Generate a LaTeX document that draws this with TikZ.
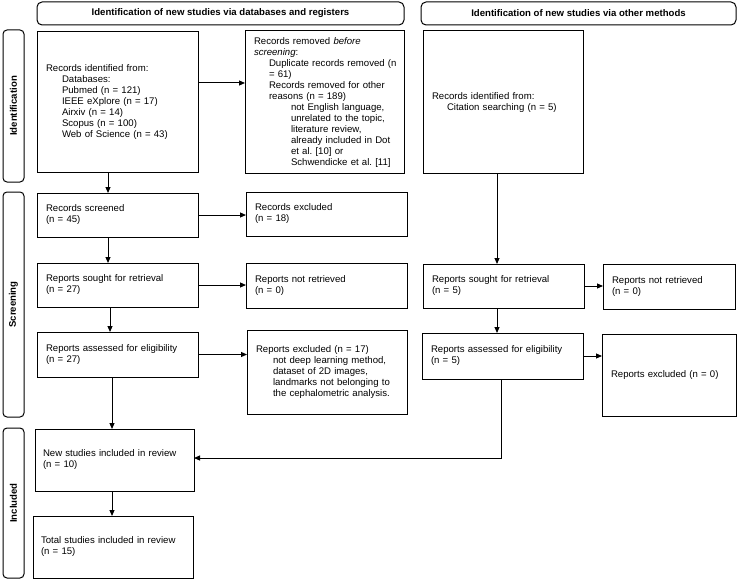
\documentclass[tikz,border=0pt]{standalone}
\usepackage{fontspec}
\setmainfont{Liberation Sans}
\usetikzlibrary{arrows.meta}
\frenchspacing
\newcommand{\IL}[2]{\hspace*{#1pt}\mbox{#2}}
\begin{document}
\begin{tikzpicture}[x=1pt,y=-1pt,
  bx/.style={draw=black, line width=1pt, anchor=north west, inner xsep=9pt, inner ysep=0pt,
    outer sep=0pt, align=left, font=\frenchspacing\fontsize{9.6}{11}\selectfont},
  hd/.style={draw=black, line width=1pt, rounded corners=5pt, anchor=north west, inner sep=0pt,
    outer sep=0pt, minimum height=23pt, font=\bfseries\fontsize{9.6}{11}\selectfont},
  side/.style={draw=black, line width=1pt, rounded corners=4pt, rotate=90, inner sep=0pt,
    outer sep=0pt, minimum height=21pt, font=\bfseries\fontsize{9.6}{11}\selectfont},
  arr/.style={line width=1pt, -{Triangle[length=6pt,width=5pt]}}]
\useasboundingbox (0,0) rectangle (738,580);

% headers
\node[hd, minimum width=367pt] (hleft) at (37,2) {Identification of new studies via databases and registers};
\node[hd, minimum width=315pt] (hright) at (421,2) {Identification of new studies via other methods};

% side labels
\node[side, minimum width=152pt] (sid) at (13.5,106) {Identification};
\node[side, minimum width=225pt] (sscr) at (13.5,304.5) {Screening};
\node[side, minimum width=150pt] (sinc) at (13.5,503) {Included};

% left column
\node[bx, text width=143pt, minimum height=141pt] (ident) at (37,32)
 {\IL{0}{Records identified from:}\\
  \IL{16}{Databases:}\\
  \IL{16}{Pubmed (n = 121)}\\
  \IL{16}{IEEE eXplore (n = 17)}\\
  \IL{16}{Airxiv (n = 14)}\\
  \IL{16}{Scopus (n = 100)}\\
  \IL{16}{Web of Science (n = 43)}};
\node[bx, text width=141pt, minimum height=143pt] (removed) at (245,31)
 {\IL{0}{Records removed \textit{before}}\\
  \IL{0}{\textit{screening}:}\\
  \IL{15}{Duplicate records removed (n}\\
  \IL{15}{= 61)}\\
  \IL{15}{Records removed for other}\\
  \IL{15}{reasons (n = 189)}\\
  \IL{37}{not English language,}\\
  \IL{37}{unrelated to the topic,}\\
  \IL{37}{literature review,}\\
  \IL{37}{already included in Dot}\\
  \IL{37}{et al. [10] or}\\
  \IL{37}{Schwendicke et al. [11]}};
\node[bx, text width=142pt, minimum height=143pt] (cit) at (423,31)
 {\IL{0}{Records identified from:}\\
  \IL{15}{Citation searching (n = 5)}\par\vspace*{8pt}};

\node[bx, text width=143pt, minimum height=44pt] (screen) at (37,193)
 {Records screened\\(n = 45)};
\node[bx, text width=143pt, minimum height=44pt] (excl18) at (246,192)
 {Records excluded\\(n = 18)};
\node[bx, text width=143pt, minimum height=44pt] (sought) at (37,263)
 {Reports sought for retrieval\\(n = 27)};
\node[bx, text width=143pt, minimum height=45pt] (notret) at (246,263)
 {Reports not retrieved\\(n = 0)};
\node[bx, text width=143pt, minimum height=45pt] (assess) at (37,332)
 {Reports assessed for eligibility\\(n = 27)};
\node[bx, text width=142pt, minimum height=84pt] (excl17) at (247,330)
 {\IL{0}{Reports excluded (n = 17)}\\
  \IL{17}{not deep learning method,}\\
  \IL{17}{dataset of 2D images,}\\
  \IL{17}{landmarks not belonging to}\\
  \IL{17}{the cephalometric analysis.}\par\vspace*{16pt}};

\node[bx, text width=143pt, minimum height=44pt] (rsought) at (423,264)
 {Reports sought for retrieval\\(n = 5)};
\node[bx, text width=114pt, minimum height=45pt] (rnotret) at (603,264)
 {Reports not retrieved\\(n = 0)};
\node[bx, text width=143pt, minimum height=46pt] (rassess) at (422,333)
 {Reports assessed for eligibility\\(n = 5)};
\node[bx, text width=116pt, minimum height=82pt] (rexcl) at (602,334)
 {Reports excluded (n = 0)};

\node[bx, inner xsep=8pt, text width=143pt, minimum height=62pt] (newst) at (35,429)
 {New studies included in review\\(n = 10)\par\vspace*{6pt}};
\node[bx, inner xsep=8pt, text width=144pt, minimum height=62pt] (total) at (33,516)
 {Total studies included in review\\(n = 15)};

% helper coordinates
\coordinate (xa) at (108,0);
\coordinate (xb) at (110,0);
\coordinate (xc) at (112,0);
\coordinate (xr) at (497,0);
\coordinate (xs) at (501,0);
\coordinate (ya) at (0,83);
\coordinate (yb) at (0,458);

% connectors
\draw[arr] (ident.east |- ya) -- (removed.west |- ya);
\draw[arr] (ident.south -| xa) -- (screen.north -| xa);
\draw[arr] (screen.east) -- (screen.east -| excl18.west);
\draw[arr] (screen.south -| xa) -- (sought.north -| xa);
\draw[arr] (sought.east) -- (sought.east -| notret.west);
\draw[arr] (sought.south -| xb) -- (assess.north -| xb);
\draw[arr] (assess.east) -- (assess.east -| excl17.west);
\draw[arr] (assess.south -| xc) -- (newst.north -| xc);
\draw[arr] (newst.south -| xc) -- (total.north -| xc);

\draw[arr] (cit.south -| xr) -- (rsought.north -| xr);
\draw[arr] (rsought.east) -- (rsought.east -| rnotret.west);
\draw[arr] (rsought.south -| xr) -- (rassess.north -| xr);
\draw[arr] (rassess.east) -- (rassess.east -| rexcl.west);
\draw[arr] (rassess.south -| xs) |- (newst.east |- yb);
\end{tikzpicture}
\end{document}
